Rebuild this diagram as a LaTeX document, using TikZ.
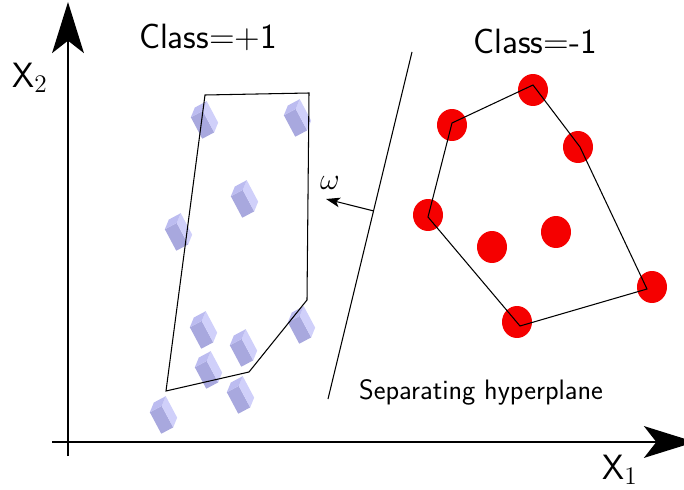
\documentclass[tikz,border=0pt]{standalone}
\usepackage{tikz}
\usetikzlibrary{arrows.meta, calc, shapes.geometric}
\definecolor{cubefront}{RGB}{168, 168, 222}
\definecolor{cubeside}{RGB}{208, 208, 250}
\definecolor{cubetop}{RGB}{188, 188, 240}
\definecolor{classred}{RGB}{245, 0, 0}
\tikzset{
	axis/.style={line width=1.7pt, -{Stealth[length=29pt, width=18pt, inset=7pt]}},
	hull/.style={line width=0.6pt, line join=miter},
	reddot/.style={ellipse, fill=classred, minimum width=0.6cm, minimum height=0.64cm, inner sep=0pt},
	lbl/.style={font=\sffamily\fontsize{20}{22}\selectfont},
	cube/.pic={
		\fill[cubefront] (-7,-6) -- (3,-6) -- (3,12) -- (-7,12) -- cycle;
		\fill[cubeside] (3,-6) -- (9,-11) -- (9,7) -- (3,12) -- cycle;
		\fill[cubetop] (-7,-6) -- (-1,-11) -- (9,-11) -- (3,-6) -- cycle;
	}
}

\begin{document}
\begin{tikzpicture}[x=0.02cm, y=-0.02cm]
	\useasboundingbox (0,0) rectangle (684,490);
	% axes
	\coordinate (origin) at (68,442);
	\draw[axis] (68,456) -- (68,2);
	\draw[axis] (52,442) -- (695,442);
	\node[lbl] (ylabel) at (30,78) {X$_2$};
	\node[lbl] (xlabel) at (620,470) {X$_1$};
	% class +1 : cubes
	\foreach \p in {(203,120), (296,118), (243,199), (177,232), (202,330),
		(242,348), (300,325), (207,370), (239,395), (162,415)}
	\pic[rotate=28, scale=1.35] at \p {cube};
	\draw[hull] (205,95) -- (309,93) -- (307,300) -- (249,372) -- (166,391) -- cycle;
	\node[lbl] (classpos) at (208,37) {Class=+1};
	% class -1 : dots
	\node[reddot] (r1) at (533,90) {};
	\node[reddot] (r2) at (452,125) {};
	\node[reddot] (r3) at (578,147) {};
	\node[reddot] (r4) at (428,215) {};
	\node[reddot] (r5) at (492,247) {};
	\node[reddot] (r6) at (556,232) {};
	\node[reddot] (r7) at (652,287) {};
	\node[reddot] (r8) at (517,322) {};
	\draw[hull] (533,85) -- (580,147) -- (647,289) -- (520,326) -- (428,217) -- (452,123) -- cycle;
	\node[lbl] (classneg) at (535,41) {Class=-1};
	% separating hyperplane and normal
	\coordinate (hptop) at (412,52);
	\coordinate (hpbot) at (328,399);
	\draw[line width=0.6pt] (hptop) -- (hpbot);
	\coordinate (hpfoot) at ($(hptop)!0.458!(hpbot)$);
	\coordinate (wtip) at (326,199);
	\draw[line width=0.6pt, -{Stealth[length=8pt, width=5.5pt, inset=2pt]}] (hpfoot) -- (wtip);
	\node[font=\fontsize{18}{20}\selectfont] (omega) at (330,183) {$\omega$};
	\node[font=\sffamily\fontsize{16}{18}\selectfont] (hplabel) at (481,392) {Separating hyperplane};
\end{tikzpicture}
\end{document}
